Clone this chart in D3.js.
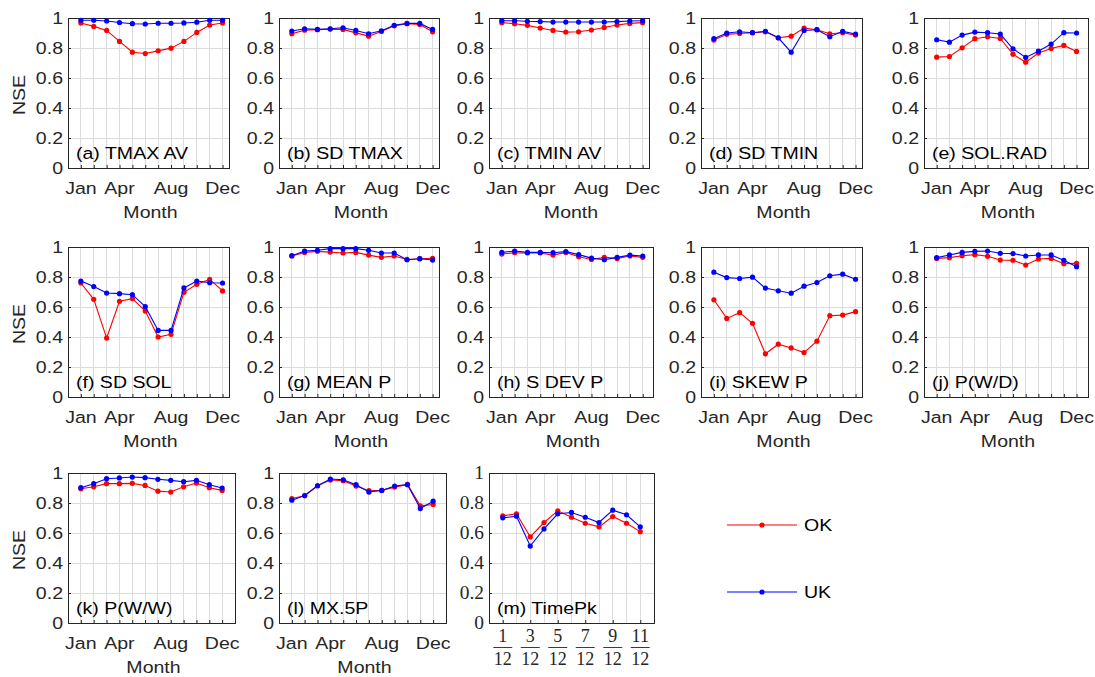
<!DOCTYPE html>
<html>
<head>
<meta charset="utf-8">
<script src="https://cdn.jsdelivr.net/npm/d3@7"></script>
<style>
  body { margin: 0; background: #fff; }
  svg { display: block; }
</style>
</head>
<body>
<svg id="chart" width="1095" height="677"></svg>
<script>
// Monthly Nash–Sutcliffe efficiency of two interpolation methods (OK, UK)
const months = ["Jan","Feb","Mar","Apr","May","Jun","Jul","Aug","Sep","Oct","Nov","Dec"];
const monthTickLabels = ["Jan","Apr","Aug","Dec"];
const yTicks = [0, 0.2, 0.4, 0.6, 0.8, 1];
const seriesNames = ["OK", "UK"];

const okTmaxAv = [0.967,0.944,0.917,0.844,0.772,0.763,0.781,0.799,0.844,0.904,0.953,0.967];
const ukTmaxAv = [0.985,0.985,0.980,0.970,0.962,0.960,0.965,0.965,0.967,0.972,0.985,0.985];
const okSdTmax = [0.895,0.919,0.922,0.926,0.924,0.901,0.879,0.910,0.948,0.962,0.957,0.908];
const ukSdTmax = [0.913,0.928,0.924,0.928,0.935,0.917,0.895,0.915,0.951,0.964,0.964,0.924];
const okTminAv = [0.969,0.962,0.951,0.933,0.917,0.906,0.908,0.920,0.937,0.953,0.964,0.969];
const ukTminAv = [0.982,0.982,0.978,0.976,0.973,0.973,0.973,0.973,0.973,0.976,0.980,0.982];
const okSdTmin = [0.853,0.891,0.897,0.902,0.908,0.868,0.879,0.933,0.922,0.895,0.902,0.886];
const ukSdTmin = [0.862,0.900,0.908,0.902,0.911,0.868,0.772,0.917,0.922,0.875,0.911,0.893];
const okSolRad = [0.739,0.743,0.801,0.862,0.875,0.864,0.759,0.705,0.766,0.797,0.817,0.777];
const ukSolRad = [0.855,0.839,0.886,0.906,0.902,0.893,0.795,0.737,0.779,0.826,0.902,0.900];
const okSdSol  = [0.760,0.651,0.393,0.638,0.656,0.573,0.400,0.418,0.698,0.751,0.784,0.707];
const ukSdSol  = [0.773,0.736,0.693,0.689,0.682,0.602,0.444,0.444,0.727,0.773,0.762,0.760];
const okMeanP  = [0.940,0.964,0.971,0.966,0.960,0.964,0.946,0.931,0.940,0.917,0.922,0.924];
const ukMeanP  = [0.942,0.973,0.978,0.989,0.989,0.989,0.978,0.960,0.960,0.915,0.922,0.913];
const okSDevP  = [0.953,0.962,0.960,0.960,0.946,0.964,0.935,0.917,0.931,0.924,0.940,0.931];
const ukSDevP  = [0.964,0.973,0.964,0.964,0.962,0.969,0.949,0.926,0.915,0.931,0.946,0.940];
const okSkewP  = [0.648,0.524,0.562,0.491,0.288,0.352,0.327,0.296,0.372,0.542,0.546,0.569];
const ukSkewP  = [0.832,0.796,0.790,0.799,0.726,0.708,0.692,0.739,0.763,0.808,0.819,0.785];
const okPwd    = [0.924,0.929,0.942,0.949,0.938,0.913,0.911,0.880,0.920,0.924,0.889,0.891];
const ukPwd    = [0.929,0.947,0.964,0.971,0.973,0.958,0.956,0.940,0.947,0.947,0.911,0.869];
const okPww    = [0.895,0.908,0.929,0.929,0.931,0.917,0.879,0.873,0.908,0.933,0.902,0.884];
const ukPww    = [0.902,0.929,0.962,0.967,0.973,0.969,0.958,0.951,0.942,0.951,0.922,0.900];
const okMx5P   = [0.830,0.848,0.915,0.953,0.949,0.913,0.882,0.884,0.906,0.924,0.781,0.790];
const ukMx5P   = [0.819,0.850,0.915,0.960,0.955,0.922,0.873,0.884,0.913,0.922,0.763,0.812];

// time of peak: evaluated at fractions k/12 of the year
const peakNumerators = [1,2,3,4,5,6,7,8,9,10,11];
const peakDenominator = 12;
const peakTickNumerators = [1,3,5,7,9,11];
const okTimePk = [0.714,0.728,0.574,0.670,0.748,0.705,0.665,0.641,0.710,0.665,0.609];
const ukTimePk = [0.701,0.712,0.513,0.627,0.728,0.737,0.705,0.670,0.752,0.721,0.641];

const panelTitles = ["(a) TMAX AV","(b) SD TMAX","(c) TMIN AV","(d) SD TMIN","(e) SOL.RAD",
  "(f) SD SOL","(g) MEAN P","(h) S DEV P","(i) SKEW P","(j) P(W/D)",
  "(k) P(W/W)","(l) MX.5P","(m) TimePk"];
const okSeries = [okTmaxAv, okSdTmax, okTminAv, okSdTmin, okSolRad, okSdSol, okMeanP, okSDevP,
  okSkewP, okPwd, okPww, okMx5P, okTimePk];
const ukSeries = [ukTmaxAv, ukSdTmax, ukTminAv, ukSdTmin, ukSolRad, ukSdSol, ukMeanP, ukSDevP,
  ukSkewP, ukPwd, ukPww, ukMx5P, ukTimePk];

// ---- layout ----
const boxes = [
  {x0: 68,  x1: 229, y0: 18,  y1: 168, xmax: 12.5},
  {x0: 279, x1: 439, y0: 18,  y1: 168, xmax: 12.5},
  {x0: 489, x1: 649, y0: 18,  y1: 168, xmax: 12.5},
  {x0: 701, x1: 862, y0: 18,  y1: 168, xmax: 12.5},
  {x0: 924, x1: 1088, y0: 18, y1: 168, xmax: 12.9},
  {x0: 68,  x1: 229, y0: 247, y1: 397, xmax: 12.5},
  {x0: 279, x1: 439, y0: 247, y1: 397, xmax: 12.5},
  {x0: 489, x1: 653, y0: 247, y1: 397, xmax: 12.8},
  {x0: 701, x1: 862, y0: 247, y1: 397, xmax: 12.5},
  {x0: 924, x1: 1088, y0: 247, y1: 397, xmax: 12.9},
  {x0: 68,  x1: 235, y0: 473, y1: 623, xmax: 13},
  {x0: 279, x1: 446, y0: 473, y1: 623, xmax: 13},
  {x0: 489, x1: 654, y0: 473, y1: 623, xmax: 1}
];
const showNSE = [0, 5, 10];

const SX = 1.15;              // text is drawn slightly wide
const SANS = "'Liberation Sans', Arial, sans-serif";
const SERIF = "'Liberation Serif', 'DejaVu Serif', serif";
const AXIS = "#262626";
const GRID = "#dcdcdc";
const OK_C = "#ff0000";
const UK_C = "#0000ff";

const svg = d3.select("#chart");

function label(parent, x, y, s, opts = {}) {
  const t = parent.append("text")
    .attr("transform", `translate(${x},${y})${opts.rotate ? ` rotate(${opts.rotate})` : ""} scale(${opts.sx || SX},1)`)
    .attr("text-anchor", opts.anchor || "start")
    .attr("font-family", opts.family || SANS)
    .attr("font-size", opts.size || 17)
    .attr("fill", opts.fill || AXIS)
    .text(s);
  return t;
}

boxes.forEach((b, i) => {
  const g = svg.append("g");
  const isPeak = i === 12;
  const y = d3.scaleLinear().domain([0, 1]).range([b.y1, b.y0]);
  const x = isPeak
    ? d3.scaleLinear().domain([0, 1]).range([b.x0, b.x1])
    : d3.scaleLinear().domain([0, b.xmax]).range([b.x0, b.x1]);

  const xs = isPeak ? peakNumerators.map(n => n / peakDenominator) : months.map((m, k) => k + 1);

  // grid
  g.append("g").selectAll("line.v").data(xs).join("line")
    .attr("x1", d => x(d)).attr("x2", d => x(d))
    .attr("y1", b.y0).attr("y2", b.y1)
    .attr("stroke", GRID).attr("stroke-width", 1).attr("shape-rendering", "crispEdges");
  g.append("g").selectAll("line.h").data(yTicks.slice(1, -1)).join("line")
    .attr("x1", b.x0).attr("x2", b.x1)
    .attr("y1", d => y(d)).attr("y2", d => y(d))
    .attr("stroke", GRID).attr("stroke-width", 1).attr("shape-rendering", "crispEdges");

  // y axis
  const yAxis = d3.axisLeft(y).tickValues(yTicks).tickSize(-3).tickFormat("");
  const ya = g.append("g").attr("transform", `translate(${b.x0},0)`).call(yAxis);
  ya.select(".domain").remove();
  ya.selectAll("line").attr("stroke", AXIS);
  yTicks.forEach(v => {
    label(g, b.x0 - 5, y(v) + 6, d3.format("~g")(v), {
      anchor: "end",
      family: isPeak ? SERIF : SANS,
      size: isPeak ? 18 : 17,
      sx: isPeak ? 1.08 : SX
    });
  });

  // x axis
  const tickVals = isPeak ? peakTickNumerators.map(n => n / peakDenominator) : xs;
  const xAxis = d3.axisBottom(x).tickValues(tickVals).tickSize(-3).tickFormat("");
  const xa = g.append("g").attr("transform", `translate(0,${b.y1})`).call(xAxis);
  xa.select(".domain").remove();
  xa.selectAll("line").attr("stroke", AXIS);

  if (isPeak) {
    peakTickNumerators.forEach(n => {
      const cx = x(n / peakDenominator);
      label(g, cx, b.y1 + 19, String(n), {anchor: "middle", family: SERIF, size: 18, sx: 1.0});
      g.append("line").attr("x1", cx - 9.5).attr("x2", cx + 9.5)
        .attr("y1", b.y1 + 24.5).attr("y2", b.y1 + 24.5)
        .attr("stroke", AXIS).attr("stroke-width", 0.9);
      label(g, cx, b.y1 + 42, String(peakDenominator), {anchor: "middle", family: SERIF, size: 18, sx: 1.0});
    });
  } else {
    monthTickLabels.forEach(m => {
      label(g, x(months.indexOf(m) + 1), b.y1 + 26, m, {anchor: "middle"});
    });
    label(g, (b.x0 + b.x1) / 2 + 2, b.y1 + 50, "Month", {anchor: "middle"});
  }

  if (showNSE.includes(i)) {
    label(g, 25, (b.y0 + b.y1) / 2 + 2, "NSE", {anchor: "middle", rotate: -90});
  }

  // box
  g.append("rect").attr("x", b.x0).attr("y", b.y0)
    .attr("width", b.x1 - b.x0).attr("height", b.y1 - b.y0)
    .attr("fill", "none").attr("stroke", AXIS).attr("stroke-width", 1)
    .attr("shape-rendering", "crispEdges");

  // series
  const line = d3.line().x((d, k) => x(xs[k])).y(d => y(d));
  [[okSeries[i], OK_C], [ukSeries[i], UK_C]].forEach(([vals, col]) => {
    g.append("path").datum(vals).attr("d", line)
      .attr("fill", "none").attr("stroke", col).attr("stroke-width", 1.1);
    g.append("g").selectAll("circle").data(vals).join("circle")
      .attr("cx", (d, k) => x(xs[k])).attr("cy", d => y(d)).attr("r", 2.6)
      .attr("fill", col);
  });

  // panel title
  label(g, b.x0 + 8, b.y1 - 9, panelTitles[i], {fill: "#000"});
});

// legend
const legendY = [525, 592];
const legendColors = [OK_C, UK_C];
seriesNames.forEach((name, k) => {
  const lg = svg.append("g");
  lg.append("line").attr("x1", 727).attr("x2", 797)
    .attr("y1", legendY[k]).attr("y2", legendY[k])
    .attr("stroke", legendColors[k]).attr("stroke-width", 1.1);
  lg.append("circle").attr("cx", 762).attr("cy", legendY[k]).attr("r", 2.6).attr("fill", legendColors[k]);
  label(lg, 804, legendY[k] + 6, name, {size: 17, fill: "#000"});
});
</script>
</body>
</html>
